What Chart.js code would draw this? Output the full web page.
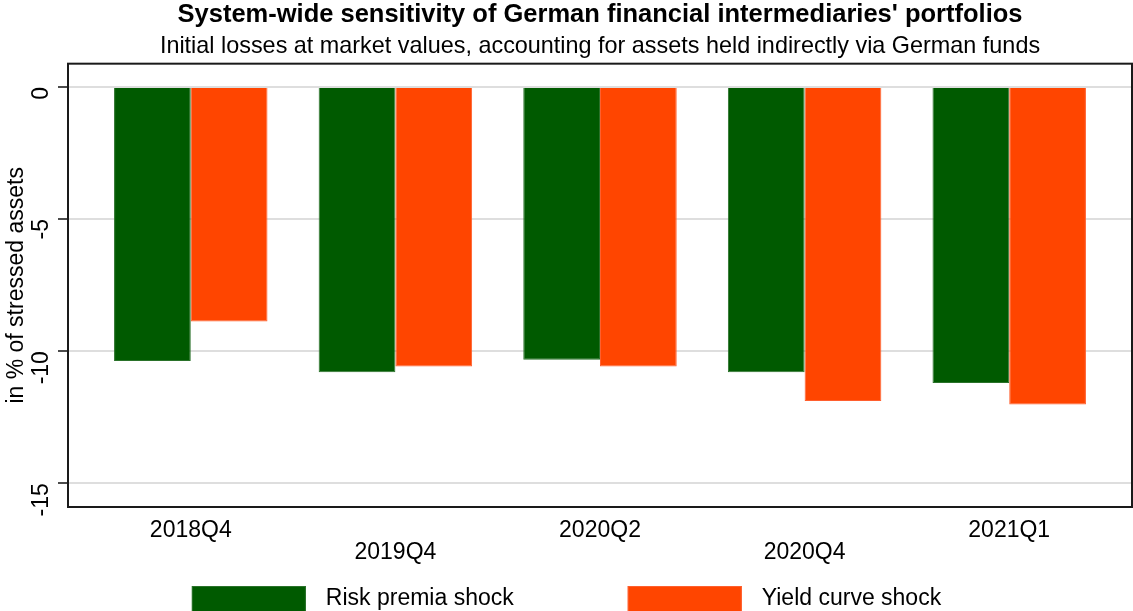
<!DOCTYPE html>
<html>
<head>
<meta charset="utf-8">
<script src="https://cdn.jsdelivr.net/npm/chart.js@4"></script>
<style>
html,body{margin:0;padding:0;background:#fff;}
#wrap{width:1133px;height:611px;position:relative;}
</style>
</head>
<body>
<div id="wrap"><canvas id="c" width="1133" height="611"></canvas></div>
<script>
const categories = ['2018Q4', '2019Q4', '2020Q2', '2020Q4', '2021Q1'];
const riskPremiaShock = [-10.37, -10.80, -10.33, -10.80, -11.21];
const yieldCurveShock = [-8.88, -10.58, -10.58, -11.89, -12.02];
const yTickValues = [0, -5, -10, -15];
const seriesNames = ['Risk premia shock', 'Yield curve shock'];
const seriesColors = ['#005a00', '#ff4500'];
const seriesBorders = ['#2a722a', '#ff5f2e'];

const FONT = "Arial, 'Liberation Sans', sans-serif";

const framePlugin = {
  id: 'frame',
  afterDraw(chart) {
    const a = chart.chartArea, ctx = chart.ctx;
    ctx.save();
    ctx.strokeStyle = '#1a1a1a';
    ctx.lineWidth = 2;
    ctx.strokeRect(a.left, a.top, a.right - a.left, a.bottom - a.top);
    ctx.restore();
  }
};

// Legend drawn below the axis from the datasets (wide gaps as in the original)
const bottomLegend = {
  id: 'bottomLegend',
  afterDraw(chart) {
    const ctx = chart.ctx;
    const ds = chart.data.datasets;
    const box = 114, boxH = 26, textGap = 20, itemGap = 114;
    ctx.save();
    ctx.font = '23px ' + FONT;
    const widths = ds.map(d => ctx.measureText(d.label).width);
    const total = widths.reduce((s, w) => s + box + textGap + w, 0) + itemGap * (ds.length - 1);
    let x = (chart.width - total) / 2;
    const yTop = 586;
    ds.forEach((d, i) => {
      ctx.fillStyle = d.backgroundColor;
      ctx.fillRect(x, yTop, box, boxH);
      ctx.strokeStyle = d.borderColor;
      ctx.lineWidth = 1;
      ctx.strokeRect(x + 0.5, yTop + 0.5, box - 1, boxH - 1);
      ctx.fillStyle = '#000';
      ctx.textBaseline = 'middle';
      ctx.textAlign = 'left';
      ctx.fillText(d.label, x + box + textGap, yTop + 13);
      x += box + textGap + widths[i] + itemGap;
    });
    ctx.restore();
  }
};

new Chart(document.getElementById('c'), {
  type: 'bar',
  data: {
    datasets: [
      {
        label: seriesNames[0],
        data: categories.map((c, i) => ({x: i, y: riskPremiaShock[i]})),
        backgroundColor: seriesColors[0],
        borderColor: seriesBorders[0],
        borderWidth: 1
      },
      {
        label: seriesNames[1],
        data: categories.map((c, i) => ({x: i, y: yieldCurveShock[i]})),
        backgroundColor: seriesColors[1],
        borderColor: seriesBorders[1],
        borderWidth: 1
      }
    ]
  },
  options: {
    responsive: false,
    animation: false,
    devicePixelRatio: 1,
    categoryPercentage: 0.75,
    barPercentage: 1,
    layout: {padding: {left: 0, right: 1, top: 0, bottom: 46}},
    plugins: {
      title: {
        display: true,
        text: "System-wide sensitivity of German financial intermediaries' portfolios",
        color: '#000',
        fullSize: false,
        font: {family: FONT, size: 25.5, weight: 'bold'},
        padding: {top: 0, bottom: 1}
      },
      subtitle: {
        display: true,
        text: 'Initial losses at market values, accounting for assets held indirectly via German funds',
        color: '#000',
        fullSize: false,
        font: {family: FONT, size: 23.4},
        padding: {top: 1, bottom: 3}
      },
      legend: {display: false},
      tooltip: {enabled: false}
    },
    scales: {
      x: {
        type: 'linear',
        min: -0.6,
        max: 4.6,
        offset: false,
        afterBuildTicks(scale) {
          scale.ticks = categories.map((c, i) => ({value: i}));
        },
        afterFit(scale) {
          scale.height = 58;
        },
        grid: {display: false, drawTicks: false, offset: false},
        border: {display: false},
        ticks: {
          autoSkip: false,
          maxRotation: 0,
          minRotation: 0,
          padding: 13,
          color: '#000',
          font: {family: FONT, size: 23, lineHeight: 0.95},
          callback(v) {
            const i = Math.round(v);
            return i % 2 ? ['', categories[i]] : categories[i];
          }
        }
      },
      y: {
        min: -15.9,
        max: 0.88,
        afterBuildTicks(scale) {
          scale.ticks = yTickValues.map(v => ({value: v}));
        },
        afterFit(scale) {
          scale.width = 68;
        },
        grid: {color: '#dedede', lineWidth: 2, tickLength: 10, tickColor: '#111', tickWidth: 1.5},
        border: {display: false},
        ticks: {
          minRotation: 90,
          maxRotation: 90,
          padding: 16,
          color: '#000',
          font: {family: FONT, size: 23}
        },
        title: {
          display: true,
          text: 'in % of stressed assets',
          color: '#000',
          font: {family: FONT, size: 23},
          padding: {top: 3, bottom: 0}
        }
      }
    }
  },
  plugins: [framePlugin, bottomLegend]
});
</script>
</body>
</html>
